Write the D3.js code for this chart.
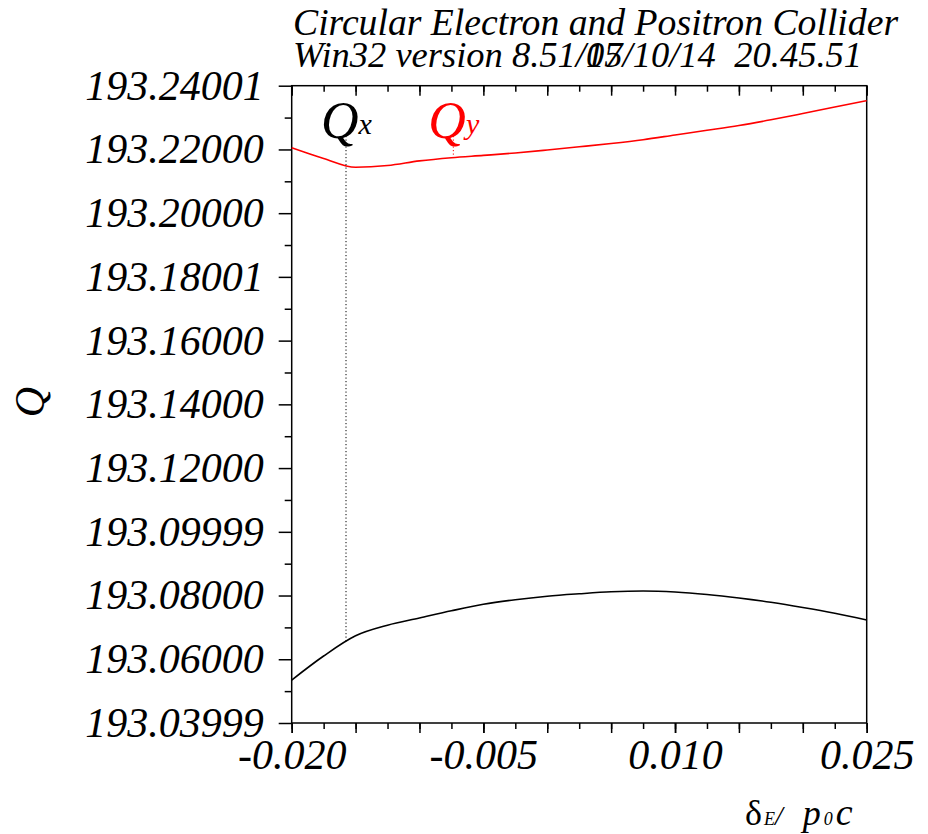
<!DOCTYPE html>
<html>
<head>
<meta charset="utf-8">
<script src="https://cdn.jsdelivr.net/npm/d3@7"></script>
<style>
  html, body { margin: 0; padding: 0; background: #fff; }
  svg { display: block; }
</style>
</head>
<body>
<svg id="chart" width="928" height="834"></svg>
<script>
// Tune versus relative momentum deviation
const delta = [-0.0200, -0.0175, -0.0150, -0.0125, -0.0100, -0.0075, -0.0050, -0.0025, 0.0000,
               0.0025, 0.0050, 0.0075, 0.0100, 0.0125, 0.0150, 0.0175, 0.0200, 0.0225, 0.0250];
const qx = [193.05347, 193.06102, 193.06736, 193.07068, 193.07294, 193.07520, 193.07724, 193.07869, 193.07978,
            193.08054, 193.08117, 193.08142, 193.08110, 193.08032, 193.07922, 193.07787, 193.07624, 193.07442, 193.07231];
const qy = [193.22055, 193.21719, 193.21443, 193.21496, 193.21641, 193.21741, 193.21813, 193.21889, 193.21983,
            193.22083, 193.22187, 193.22306, 193.22454, 193.22601, 193.22752, 193.22931, 193.23129, 193.23333, 193.23530];

// Axis ticks
const xTickLabels = ["-0.020", "-0.005", "0.010", "0.025"];
const yTickLabels = ["193.24001", "193.22000", "193.20000", "193.18001", "193.16000", "193.14000",
                     "193.12000", "193.09999", "193.08000", "193.06000", "193.03999"];
const xDomain = [-0.020, 0.025];
const yDomain = [193.03999, 193.24001];

// Series labels and where their leader lines sit
const seriesNames = ["x", "y"];
const seriesColors = ["#000000", "#ff0000"];
const labelDelta = [-0.01575, -0.00735];

// Header text
const titleText = "Circular Electron and Positron Collider";
const versionText = "Win32 version 8.51/07";
const dateText = "15/10/14";
const timeText = "20.45.51";

const FAMILY = "Liberation Serif";
const svg = d3.select("#chart");
const mLeft = 291.7, mTop = 85.7, W = 575, H = 637.3;

const x = d3.scaleLinear().domain(xDomain).range([mLeft, mLeft + W]);
const y = d3.scaleLinear().domain(yDomain).range([mTop + H, mTop]);

// font helper: size in px, italic unless told otherwise
const setFont = (sel, size, italic = true) =>
  sel.attr("font-family", FAMILY).attr("font-size", size).attr("font-style", italic ? "italic" : "normal");

// --- y axis (ticks outward) ---
const yMajor = yTickLabels.map(Number);
const yMinor = d3.range(10).map(i => (yMajor[i] + yMajor[i + 1]) / 2);

svg.append("g").attr("transform", `translate(${mLeft},0)`)
  .call(d3.axisLeft(y).tickValues(yMinor).tickSize(7).tickFormat(""))
  .call(g => g.select(".domain").remove())
  .selectAll("line").attr("stroke", "#000").attr("stroke-width", 1.5);

const yAx = svg.append("g").attr("transform", `translate(${mLeft},0)`)
  .call(d3.axisLeft(y).tickValues(yMajor).tickSize(13).tickPadding(15)
        .tickFormat((d, i) => yTickLabels[i]));
yAx.select(".domain").remove();
yAx.selectAll("line").attr("stroke", "#000").attr("stroke-width", 1.5);
setFont(yAx.selectAll("text").attr("fill", "#000").attr("dy", "0.32em"), 42);

// --- x axis ticks: bottom outward, top inward ---
const xFine = d3.range(19).map(i => xDomain[0] + i * 0.0025);
const xMid = xFine.filter((d, i) => i % 2 === 0);
const xMajor = xTickLabels.map(Number);

function fineTicks(gen, sel, size) {
  sel.call(gen.tickSize(size).tickFormat(""))
     .call(g => g.select(".domain").remove())
     .selectAll("line").attr("stroke", "#000").attr("stroke-width", 1.5);
}
fineTicks(d3.axisBottom(x).tickValues(xFine), svg.append("g").attr("transform", `translate(0,${mTop + H})`), 6);
fineTicks(d3.axisBottom(x).tickValues(xMid), svg.append("g").attr("transform", `translate(0,${mTop + H})`), 10);
fineTicks(d3.axisTop(x).tickValues(xFine), svg.append("g").attr("transform", `translate(0,${mTop})`), -6);
fineTicks(d3.axisTop(x).tickValues(xMid), svg.append("g").attr("transform", `translate(0,${mTop})`), -10);

const xAx = svg.append("g").attr("transform", `translate(0,${mTop + H})`)
  .call(d3.axisBottom(x).tickValues(xMajor).tickSize(10).tickPadding(6)
        .tickFormat((d, i) => xTickLabels[i]));
xAx.select(".domain").remove();
xAx.selectAll("line").attr("stroke", "#000").attr("stroke-width", 1.5);
setFont(xAx.selectAll("text").attr("fill", "#000").attr("dy", "0.71em"), 42);

// --- frame ---
svg.append("rect")
  .attr("x", mLeft).attr("y", mTop).attr("width", W).attr("height", H)
  .attr("fill", "none").attr("stroke", "#000").attr("stroke-width", 1.5);

// --- curves ---
const series = [qx, qy];
const line = d3.line().x((d, i) => x(delta[i])).curve(d3.curveMonotoneX);
series.forEach((vals, k) => {
  svg.append("path")
    .datum(vals)
    .attr("d", line.y(d => y(d)))
    .attr("fill", "none")
    .attr("stroke", seriesColors[k])
    .attr("stroke-width", 1.6);
});

// --- series labels with dotted leaders ---
const interp = (vals, d) => {
  const j = Math.min(delta.length - 2, Math.max(0, d3.bisectRight(delta, d) - 1));
  const t = (d - delta[j]) / (delta[j + 1] - delta[j]);
  return vals[j] + t * (vals[j + 1] - vals[j]);
};
series.forEach((vals, k) => {
  const px = x(labelDelta[k]);
  svg.append("line")
    .attr("x1", px).attr("x2", px)
    .attr("y1", 136).attr("y2", y(interp(vals, labelDelta[k])))
    .attr("stroke", seriesColors[k]).attr("stroke-width", 1)
    .attr("stroke-dasharray", "1.2,2.3");
  const t = setFont(svg.append("text")
    .attr("x", px - 25).attr("y", 138)
    .attr("fill", seriesColors[k]), 52);
  t.append("tspan").text("Q");
  setFont(t.append("tspan").attr("dy", -4), 30).text(seriesNames[k]);
});

// --- axis titles ---
setFont(svg.append("text")
  .attr("transform", "translate(44,402) rotate(-90)")
  .attr("text-anchor", "middle"), 42)
  .text("Q");

const xt = svg.append("text").attr("x", 745).attr("y", 825).attr("fill", "#000");
setFont(xt.append("tspan"), 36, false).text("δ");
setFont(xt.append("tspan").attr("dx", 2), 18).text("E");
setFont(xt.append("tspan"), 28).text("/");
setFont(xt.append("tspan").attr("dx", 20), 36).text("p");
setFont(xt.append("tspan").attr("dx", 3), 18).text("0");
setFont(xt.append("tspan").attr("dx", 3), 38).text("c");

// --- header ---
const hSize = 37.7, vSize = 36.5;
setFont(svg.append("text").attr("x", 293).attr("y", 35), hSize).text(titleText);
setFont(svg.append("text").attr("x", 293).attr("y", 67), vSize).text(versionText);
// the date is printed starting where the version's last two digits begin
const probe = setFont(svg.append("text"), vSize).text(versionText.slice(0, -2));
const dateX = 293 + probe.node().getComputedTextLength();
probe.remove();
setFont(svg.append("text").attr("x", dateX).attr("y", 67), vSize).text(dateText);
setFont(svg.append("text").attr("x", 862).attr("y", 67).attr("text-anchor", "end"), vSize).text(timeText);
</script>
</body>
</html>
